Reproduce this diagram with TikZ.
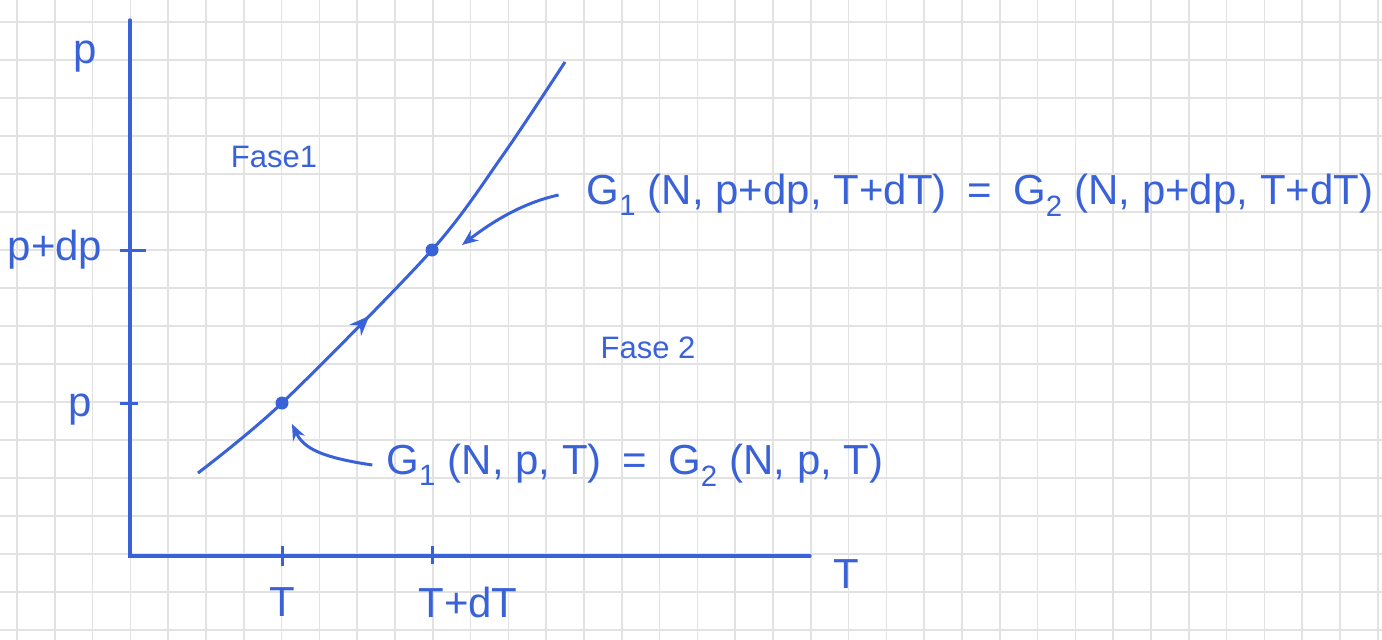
\documentclass[tikz,border=0pt]{standalone}
\usepackage{fontspec}
\setmainfont{Liberation Sans}
\usetikzlibrary{arrows.meta,decorations.markings}
\definecolor{ink}{HTML}{3A62D8}
\definecolor{paper}{HTML}{E2E2E2}

\begin{document}
\begin{tikzpicture}[
  x=1pt, y=-1pt,
  gridline/.style={draw=paper, line width=1.6pt},
  axisline/.style={draw=ink, line width=3.4pt, line cap=round},
  tickmark/.style={draw=ink, line width=3pt},
  hand/.style={text=ink, font=\fontsize{42}{48}\selectfont, inner sep=0pt},
  phase/.style={text=ink, font=\fontsize{31}{36}\selectfont, inner sep=0pt},
  dot/.style={circle, fill=ink, inner sep=0pt, minimum size=13pt},
  pointer/.style={draw=ink, line width=3pt, -{Stealth[length=16pt, width=13pt]}},
  coexist/.style={draw=ink, line width=3pt,
    decoration={markings, mark=at position 0.42 with {\arrow{Stealth[length=20pt, width=16pt]}}},
    postaction={decorate}},
]
\useasboundingbox (0,0) rectangle (1382,640);

% squared paper
\foreach \gx in {0,...,36}
  \draw[gridline] ({17+37.8*\gx},0) -- ++(0,640);
\foreach \gy in {0,...,16}
  \draw[gridline] (0,{22+38*\gy}) -- ++(1382,0);

% axes
\coordinate (origin) at (130,556);
\coordinate (ytop) at (130,20);
\coordinate (xend) at (810,556);
\draw[axisline] (ytop) -- (origin) -- (xend);

\draw[tickmark] (120,250) -- (146,250);
\draw[tickmark] (120,403) -- (138,403);
\draw[tickmark] (282,546) -- (282,566);
\draw[tickmark] (432,546) -- (432,564);

\node[hand] (pAxis) at (85,57) {p};
\node[hand] (pdpTick) at (55,250) {p+dp};
\node[hand] (pTick) at (80,410) {p};
\node[hand] (tTick) at (282,602) {T};
\node[hand] (tdtTick) at (468,602) {T+dT};
\node[hand] (tAxis) at (846,574) {T};

\node[phase] (fase1) at (274,157) {Fase1};
\node[phase] (fase2) at (648,348) {Fase 2};

% coexistence line
\node[dot] (pt1) at (282,403) {};
\node[dot] (pt2) at (432,250) {};
\coordinate (cstart) at (198,473);
\coordinate (cend) at (565,62);
\draw[coexist] plot[smooth, tension=0.5] coordinates
  {(cstart) (pt1.center) (pt2.center) (503,155) (cend)};

\node[hand] (eqTop) at (980,195)
  {G\textsubscript{1} (N, p+dp, T+dT)\enspace=\enspace G\textsubscript{2} (N, p+dp, T+dT)};
\node[hand] (eqLow) at (635,465)
  {G\textsubscript{1} (N, p, T)\enspace=\enspace G\textsubscript{2} (N, p, T)};

\draw[pointer] ([xshift=-28pt]eqTop.west) .. controls (522,203) and (492,222) .. ([shift={(30,-5)}]pt2.center);
\draw[pointer] ([xshift=-14pt]eqLow.west) .. controls (318,457) and (303,447) .. ([shift={(10,21)}]pt1.center);

\end{tikzpicture}
\end{document}
